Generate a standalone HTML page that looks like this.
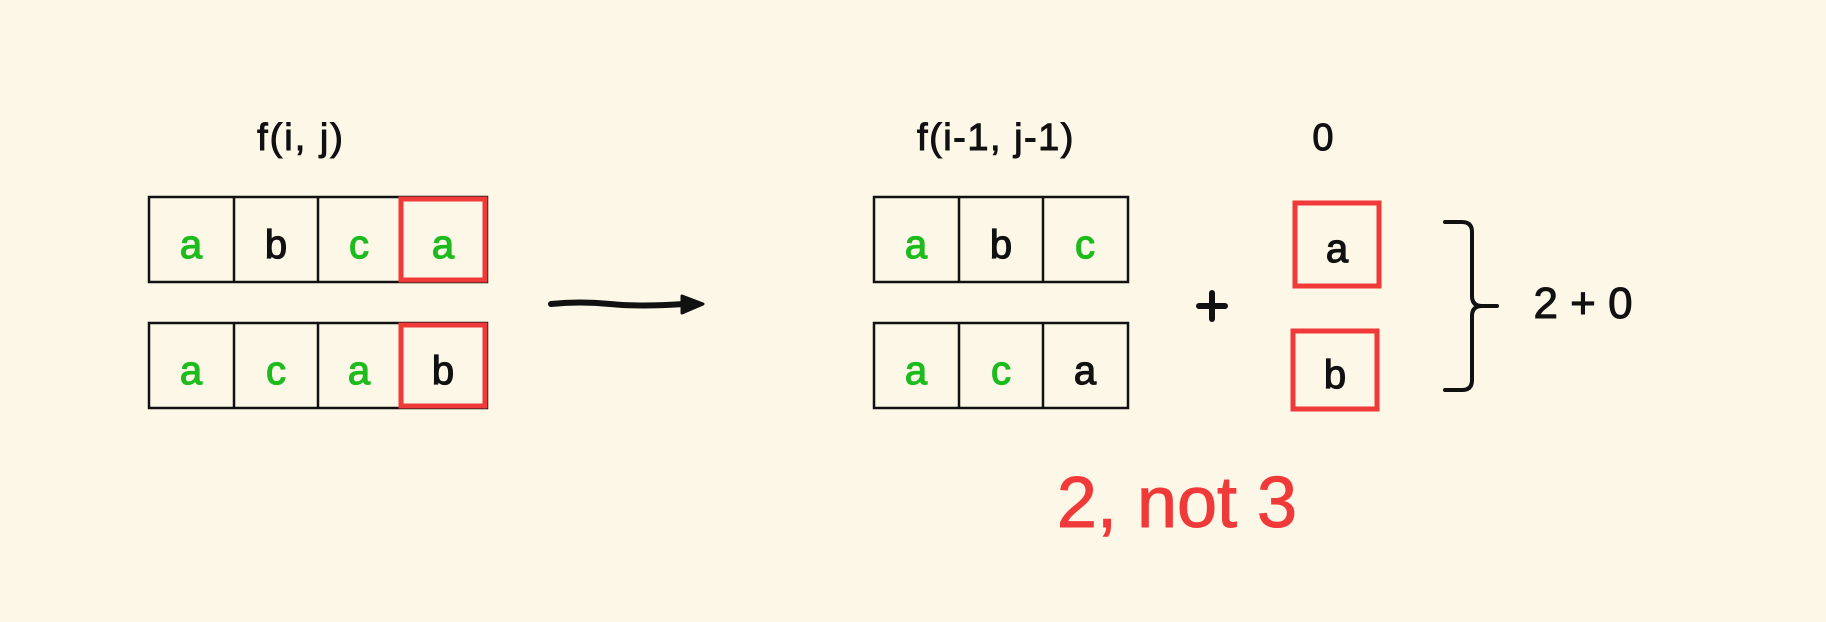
<!DOCTYPE html>
<html><head><meta charset="utf-8"><style>
html,body{margin:0;padding:0;background:#fdf7e7;}
svg{display:block}
text{font-family:"Liberation Sans","DejaVu Sans",sans-serif;}
</style></head><body>
<svg width="1826" height="622" viewBox="0 0 1826 622" xmlns="http://www.w3.org/2000/svg">
<rect width="1826" height="622" fill="#fdf7e7"/>
<g fill="none" stroke="#111" stroke-width="2.5">
  <rect x="149" y="197" width="338" height="85"/>
  <line x1="234" y1="197" x2="234" y2="282"/><line x1="318" y1="197" x2="318" y2="282"/>
  <rect x="149" y="323" width="338" height="85"/>
  <line x1="234" y1="323" x2="234" y2="408"/><line x1="318" y1="323" x2="318" y2="408"/>
  <rect x="874" y="197" width="254" height="85"/>
  <line x1="959" y1="197" x2="959" y2="282"/><line x1="1043" y1="197" x2="1043" y2="282"/>
  <rect x="874" y="323" width="254" height="85"/>
  <line x1="959" y1="323" x2="959" y2="408"/><line x1="1043" y1="323" x2="1043" y2="408"/>
</g>
<g fill="none" stroke="#f03a3a" stroke-width="5">
  <rect x="401" y="199" width="84" height="81"/>
  <rect x="401" y="325" width="84" height="81"/>
  <rect x="1295" y="203" width="84" height="83"/>
  <rect x="1293" y="331" width="84" height="78"/>
</g>
<g font-size="40" text-anchor="middle" stroke-width="1.2">
  <text x="191" y="258" fill="#1dbb1d" stroke="#1dbb1d">a</text>
  <text x="276" y="258" fill="#111" stroke="#111">b</text>
  <text x="359" y="258" fill="#1dbb1d" stroke="#1dbb1d">c</text>
  <text x="443" y="258" fill="#1dbb1d" stroke="#1dbb1d">a</text>
  <text x="191" y="384" fill="#1dbb1d" stroke="#1dbb1d">a</text>
  <text x="276" y="384" fill="#1dbb1d" stroke="#1dbb1d">c</text>
  <text x="359" y="384" fill="#1dbb1d" stroke="#1dbb1d">a</text>
  <text x="443" y="384" fill="#111" stroke="#111">b</text>
  <text x="916" y="258" fill="#1dbb1d" stroke="#1dbb1d">a</text>
  <text x="1001" y="258" fill="#111" stroke="#111">b</text>
  <text x="1085" y="258" fill="#1dbb1d" stroke="#1dbb1d">c</text>
  <text x="916" y="384" fill="#1dbb1d" stroke="#1dbb1d">a</text>
  <text x="1001" y="384" fill="#1dbb1d" stroke="#1dbb1d">c</text>
  <text x="1085" y="384" fill="#111" stroke="#111">a</text>
  <text x="1337" y="262" fill="#111" stroke="#111">a</text>
  <text x="1335" y="388" fill="#111" stroke="#111">b</text>
</g>
<g font-size="38" fill="#111" stroke="#111" stroke-width="1" text-anchor="middle">
  <text x="301" y="150" letter-spacing="2">f(i, j)</text>
  <text x="996" y="150" letter-spacing="1.5">f(i-1, j-1)</text>
  <text x="1323" y="150">0</text>
</g>
<text x="1583" y="318" font-size="44" fill="#111" stroke="#111" stroke-width="1" text-anchor="middle">2 + 0</text>
<text x="1177" y="527" font-size="72" fill="#f03a3a" stroke="#f03a3a" stroke-width="1" text-anchor="middle">2, not 3</text>
<g stroke="#111" stroke-width="6" stroke-linecap="round">
  <line x1="1199" y1="306" x2="1225" y2="306"/>
  <line x1="1212" y1="293" x2="1212" y2="319"/>
</g>
<path d="M551 304 Q580 301 610 304 T684 304" stroke="#111" stroke-width="6" fill="none" stroke-linecap="round"/>
<polygon points="682,296 703,304 682,313" fill="#111" stroke="#111" stroke-width="3" stroke-linejoin="round"/>
<path d="M1445 222 L1462 222 Q1472 222 1472 232 L1472 296 Q1472 306 1482 306 L1497 306 M1482 306 Q1472 306 1472 316 L1472 380 Q1472 390 1462 390 L1445 390" stroke="#111" stroke-width="4" fill="none" stroke-linecap="round"/>
</svg>
</body></html>
